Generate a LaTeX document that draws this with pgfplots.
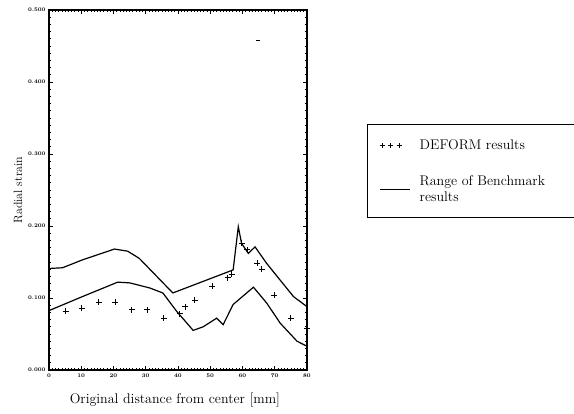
\documentclass[border=0pt]{standalone}
\usepackage{pgfplots}
\pgfplotsset{compat=1.18}
\begin{document}
\begin{tikzpicture}
\useasboundingbox (-49pt,-44pt) rectangle (525pt,370pt);
\begin{axis}[
  scale only axis, width=258pt, height=360pt,
  xmin=0, xmax=80, ymin=0, ymax=0.5,
  xtick={0,10,...,80}, ytick={0,0.1,0.2,0.3,0.4,0.5},
  minor x tick num=9, minor y tick num=9,
  tick align=inside, tick pos=both,
  major tick length=4pt, minor tick length=2pt,
  axis line style={line width=1.1pt},
  every tick/.style={black, line width=0.7pt},
  /pgf/number format/assume math mode=true,
  yticklabel style={font=\fontsize{5.5}{6}\selectfont\bfseries, /pgf/number format/.cd, fixed, fixed zerofill, precision=3},
  xticklabel style={font=\fontsize{5.5}{6}\selectfont\bfseries},
  scaled y ticks=false,
  ylabel={Radial strain}, ylabel style={font=\fontsize{12}{14}\selectfont, at={(axis description cs:-0.12,0.5)}, anchor=center},
  xlabel={Original distance from center [mm]}, xlabel style={font=\fontsize{14}{16}\selectfont, at={(axis description cs:0.488,-0.083)}, anchor=center},
  clip=false,
  legend style={at={(axis description cs:1.279,0.644)}, anchor=north west, draw=none, fill=none, inner sep=0pt,
    row sep=23pt, font=\fontsize{14}{16}\selectfont, nodes={align=left, inner sep=1pt}},
  legend cell align=left,
]
\addplot[only marks, mark=+, mark size=3pt, mark options={line width=1pt},
  legend image code/.code={\path[draw=none] (0pt,0pt) -- (39pt,0pt);
    \draw[line width=1pt] (0pt,0pt) -- (5pt,0pt) (2.5pt,-2.5pt) -- (2.5pt,2.5pt)
      (8.5pt,0pt) -- (13.5pt,0pt) (11pt,-2.5pt) -- (11pt,2.5pt)
      (17pt,0pt) -- (22pt,0pt) (19.5pt,-2.5pt) -- (19.5pt,2.5pt);}]
  coordinates {
  (5.2,0.0816) (10.2,0.086) (15.4,0.094) (20.6,0.094) (25.7,0.084) (30.4,0.084)
  (35.6,0.072) (40.5,0.078) (42.3,0.088) (45.2,0.097) (50.6,0.116) (55.4,0.128)
  (56.6,0.133) (59.7,0.176) (61.5,0.167) (64.6,0.148) (66,0.140) (69.9,0.104)
  (75,0.072) (80,0.058)};
\addlegendentry{DEFORM results}
\addplot[black, line width=1.2pt,
  legend image code/.code={\path[draw=none] (0pt,0pt) -- (39pt,0pt);\draw[line width=1.1pt] (0pt,0pt) -- (30pt,0pt);}]
  coordinates {
  (0,0.141) (4.2,0.142) (10.4,0.153) (20.3,0.168) (24.4,0.165) (28,0.155)
  (38.4,0.107) (57.1,0.139) (58.7,0.199) (59.7,0.176) (61.8,0.162) (63.9,0.171)
  (67.5,0.148) (75.8,0.102) (80,0.088)};
\addlegendentry{Range of Benchmark\\results}
\addplot[black, line width=1.2pt, forget plot] coordinates {
  (0,0.0825) (10.4,0.102) (21.3,0.122) (25,0.121) (31.2,0.114) (35.3,0.107)
  (39.5,0.082) (44.7,0.055) (47.8,0.060) (52,0.072) (54,0.063) (57.1,0.091)
  (63.4,0.115) (67.5,0.093) (71.7,0.065) (76.9,0.040) (80,0.033)};
\addplot[only marks, mark=-, mark size=2pt, mark options={line width=0.8pt}, forget plot] coordinates {(64.8,0.458)};
\end{axis}
\draw[line width=0.9pt] (318pt,153pt) rectangle (535pt,246pt);
\end{tikzpicture}
\end{document}
